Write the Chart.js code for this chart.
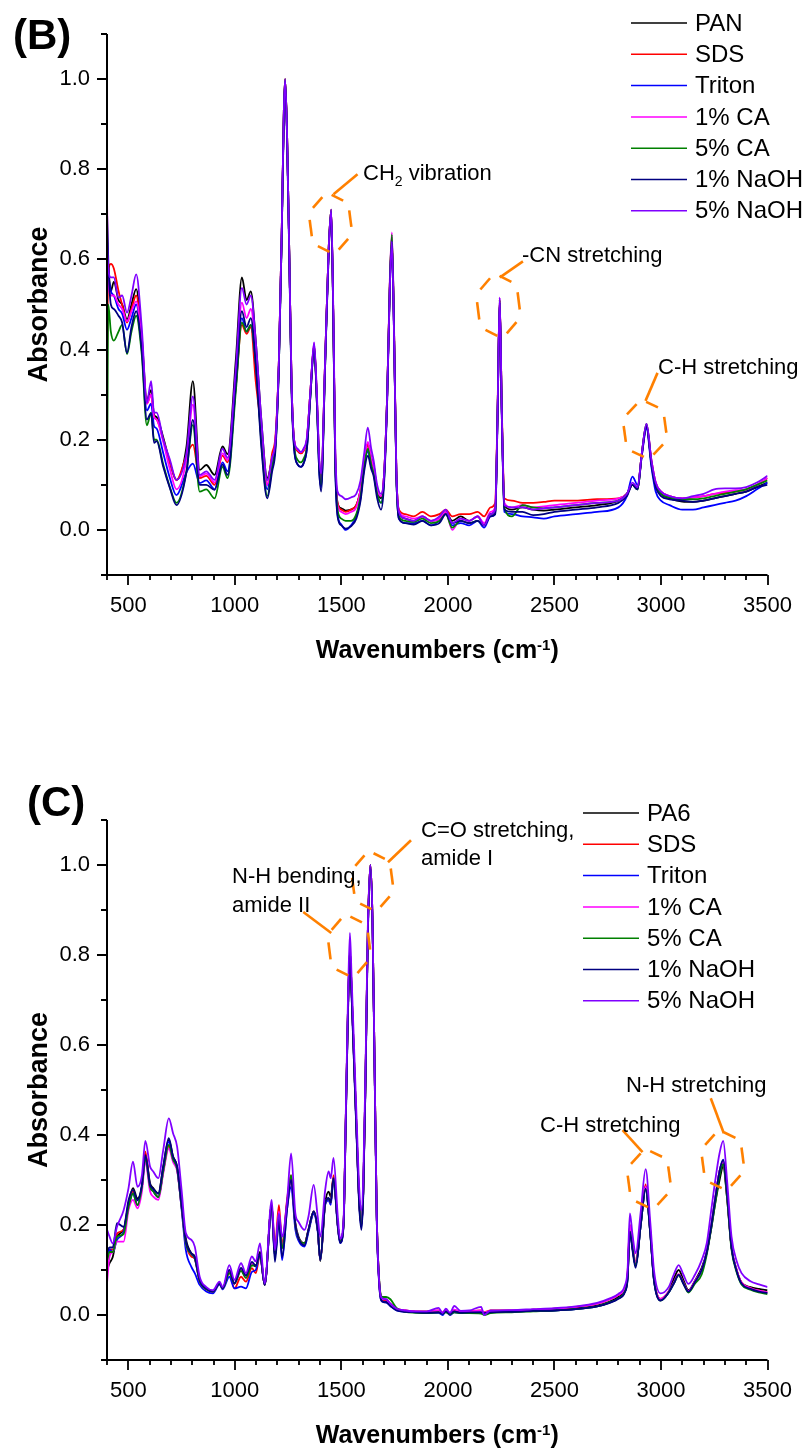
<!DOCTYPE html>
<html>
<head>
<meta charset="utf-8">
<script src="https://cdn.jsdelivr.net/npm/chart.js@4.4.0/dist/chart.umd.min.js"></script>
<style>
body { margin: 0; background: #fff; }
#wrap { position: relative; width: 810px; height: 1450px; }
.panel { position: absolute; left: 0; width: 810px; }
</style>
</head>
<body>
<div id="wrap">
    <div class="panel" style="top:0;height:720px"><canvas id="chartB" width="810" height="720"></canvas></div>
    <div class="panel" style="top:720px;height:730px"><canvas id="chartC" width="810" height="730"></canvas></div>
</div>
<script>
const FONT = "'Liberation Sans', Arial, Helvetica, sans-serif";
const SERIES_COLORS = ['#000000', '#ff0000', '#0000ff', '#ff00ff', '#008000', '#000080', '#8000ff'];
const NOTE_COLOR = '#ff8000';

const xMajorTicks = [500, 1000, 1500, 2000, 2500, 3000, 3500];
const yMajorTicks = [0.0, 0.2, 0.4, 0.6, 0.8, 1.0];

// ---- panel B (PAN) ----
const labelsB = ['PAN', 'SDS', 'Triton', '1% CA', '5% CA', '1% NaOH', '5% NaOH'];
const wnB = [400,406,418,432,454,471,494,515,537,563, 587,607,621,633,664,695,726,773,803,835,
    866,905,942,966,1005,1033,1055,1075,1098,1125, 1152,1175,1191,1207,1220,1230,1236,1245,1256,1266,
    1278,1295,1310,1322,1338,1355,1372,1386,1396,1405, 1424,1440,1452,1462,1471,1482,1500,1520,1545,1570,
    1590,1607,1624,1640,1651,1668,1686,1700,1715,1727, 1737,1748,1758,1770,1800,1840,1880,1920,1960,1990,
    2020,2060,2100,2140,2170,2200,2222,2233,2243,2253, 2265,2300,2350,2400,2450,2500,2600,2700,2800,2840,
    2866,2890,2910,2932,2955,2975,3000,3040,3100,3150, 3200,3250,3300,3350,3400,3450,3500];
const panB = [.60,.58,.53,.55,.51,.50,.467,.50,.534,.43, .29,.31,.255,.25,.205,.15,.111,.185,.33,.133,
    .144,.122,.185,.168,.38,.56,.51,.529,.42,.24, .115,.16,.20,.38,.66,.93,1.0,.88,.60,.33,
    .20,.175,.17,.178,.20,.31,.41,.28,.15,.115, .38,.62,.71,.48,.17,.06,.048,.043,.045,.055,
    .09,.15,.19,.16,.145,.09,.07,.12,.30,.54, .65,.42,.13,.04,.025,.02,.03,.02,.025,.04,
    .02,.03,.02,.03,.01,.035,.04,.26,.51,.26, .055,.045,.05,.045,.043,.045,.05,.055,.065,.08,
    .10,.09,.17,.23,.15,.10,.08,.07,.063,.062, .065,.07,.075,.08,.085,.095,.105];
const sdsB = [.38,.57,.59,.58,.53,.50,.46,.49,.52,.42, .28,.30,.25,.245,.20,.15,.11,.165,.189,.115,
    .12,.10,.165,.15,.32,.455,.435,.45,.33,.22, .10,.17,.21,.38,.66,.93,1.0,.88,.60,.33,
    .20,.175,.17,.175,.20,.31,.41,.28,.15,.11, .38,.62,.71,.48,.17,.06,.045,.04,.045,.055,
    .09,.15,.19,.155,.14,.09,.075,.12,.30,.54, .645,.42,.13,.045,.035,.03,.04,.03,.035,.045,
    .03,.035,.035,.04,.03,.05,.06,.27,.51,.27, .07,.065,.06,.06,.062,.065,.065,.068,.07,.08,
    .10,.095,.17,.23,.155,.105,.085,.075,.07,.072, .075,.08,.082,.085,.09,.10,.115];
const tritonB = [.61,.57,.53,.52,.49,.48,.444,.47,.50,.41, .265,.28,.23,.225,.17,.115,.077,.128,.147,.104,
    .11,.09,.15,.13,.32,.47,.44,.455,.37,.20, .09,.15,.19,.37,.65,.92,.995,.87,.59,.32,
    .185,.145,.14,.147,.18,.30,.405,.27,.13,.095, .37,.61,.705,.47,.15,.035,.012,.0,.01,.03,
    .07,.14,.175,.14,.13,.08,.06,.11,.29,.53, .64,.41,.12,.025,.015,.015,.02,.01,.02,.035,
    .01,.015,.01,.02,.005,.03,.035,.25,.505,.25, .04,.035,.03,.028,.025,.03,.035,.04,.05,.075,
    .118,.10,.165,.225,.14,.085,.065,.055,.045,.045, .05,.055,.06,.065,.075,.09,.105];
const ca1B = [.74,.56,.52,.52,.50,.49,.463,.485,.507,.42, .28,.30,.25,.245,.195,.135,.09,.157,.278,.119,
    .125,.105,.17,.155,.34,.504,.47,.49,.40,.22, .10,.16,.20,.38,.66,.93,1.0,.88,.60,.33,
    .20,.178,.172,.178,.20,.31,.415,.28,.15,.11, .38,.62,.71,.48,.17,.055,.04,.035,.04,.05,
    .09,.155,.195,.16,.14,.09,.075,.12,.30,.55, .66,.43,.13,.04,.03,.025,.03,.02,.025,.04,
    .0,.025,.02,.03,.015,.04,.05,.26,.515,.26, .06,.05,.055,.05,.052,.055,.06,.065,.07,.08,
    .10,.095,.17,.235,.155,.105,.085,.075,.07,.072, .075,.08,.085,.088,.09,.10,.115];
const ca5B = [.03,.50,.44,.42,.44,.455,.39,.44,.475,.39, .232,.26,.20,.20,.145,.095,.06,.13,.233,.085,
    .09,.07,.14,.115,.31,.46,.44,.455,.37,.19, .075,.14,.19,.37,.65,.93,1.0,.88,.60,.32,
    .19,.155,.15,.157,.185,.30,.41,.27,.14,.10, .37,.62,.71,.47,.16,.045,.025,.02,.02,.035,
    .075,.14,.18,.145,.125,.08,.06,.11,.30,.54, .655,.42,.12,.03,.02,.018,.025,.015,.02,.035,
    .005,.02,.015,.02,.01,.035,.04,.26,.51,.26, .05,.03,.055,.05,.048,.05,.055,.06,.065,.08,
    .10,.09,.17,.235,.15,.10,.08,.072,.068,.068, .07,.075,.08,.085,.09,.10,.11];
const naoh1B = [.71,.60,.50,.49,.475,.46,.393,.45,.485,.40, .245,.259,.193,.197,.14,.093,.055,.128,.244,.10,
    .10,.089,.145,.122,.33,.485,.45,.47,.37,.18, .07,.13,.18,.37,.65,.92,.995,.87,.59,.31,
    .18,.145,.14,.147,.18,.30,.405,.27,.13,.085, .37,.61,.705,.47,.15,.03,.01,.003,.008,.025,
    .065,.13,.165,.135,.12,.07,.045,.10,.29,.53, .64,.41,.12,.025,.015,.012,.02,.01,.015,.035,
    .015,.02,.015,.02,.01,.03,.035,.25,.505,.25, .045,.04,.04,.033,.035,.04,.045,.05,.06,.075,
    .10,.09,.165,.23,.145,.095,.075,.068,.065,.062, .065,.07,.075,.08,.085,.095,.10];
const naoh5B = [.64,.58,.56,.56,.515,.52,.482,.52,.567,.45, .282,.33,.26,.26,.20,.156,.111,.171,.296,.122,
    .13,.111,.18,.16,.36,.537,.50,.52,.42,.24, .11,.16,.20,.38,.66,.93,1.0,.88,.60,.33,
    .20,.18,.173,.18,.205,.31,.416,.29,.16,.125, .38,.62,.711,.49,.19,.085,.075,.068,.072,.08,
    .11,.17,.227,.18,.155,.10,.08,.12,.30,.53, .64,.41,.13,.04,.025,.02,.03,.02,.03,.045,
    .015,.025,.02,.03,.01,.035,.045,.26,.515,.26, .055,.05,.05,.045,.048,.05,.055,.06,.065,.08,
    .105,.095,.17,.235,.155,.105,.085,.075,.07,.075, .08,.09,.092,.092,.095,.105,.12];

// ---- panel C (PA6) ----
const labelsC = ['PA6', 'SDS', 'Triton', '1% CA', '5% CA', '1% NaOH', '5% NaOH'];
const wnC = [400,412,427,447,478,501,522,543,564,580, 602,617,641,664,690,710,729,750,770,796,
    812,835,866,897,928,943,974,998,1029,1052, 1080,1098,1118,1140,1173,1188,1207,1222,1245,1264,
    1284,1299,1327,1346,1370,1389,1401,1424,1440,1450, 1463,1483,1494,1510,1520,1530,1540,1548,1560,1572,
    1584,1594,1603,1613,1624,1636,1646,1656,1666,1678, 1692,1710,1730,1760,1800,1850,1900,1956,1975,1990,
    2010,2030,2060,2100,2156,2170,2200,2300,2400,2500, 2600,2700,2760,2800,2830,2843,2854,2866,2881,2905,
    2928,2950,2967,2998,3036,3060,3083,3105,3129,3160, 3191,3215,3235,3255,3275,3292,3310,3331,3355,3378,
    3420,3460,3500];
const pa6C = [.10,.115,.129,.174,.19,.248,.282,.259,.285,.356, .293,.282,.27,.33,.389,.352,.33,.248,.17,.137,
    .13,.078,.059,.052,.07,.059,.096,.07,.104,.085, .115,.108,.14,.067,.244,.135,.226,.152,.248,.304,
    .204,.174,.159,.19,.226,.189,.12,.248,.274,.263, .305,.20,.163,.20,.42,.66,.811,.72,.56,.40,
    .25,.20,.28,.52,.85,1.0,.88,.55,.22,.07, .035,.03,.022,.012,.008,.007,.006,.008,.004,.008,
    .003,.01,.006,.007,.008,.005,.008,.008,.01,.011, .015,.021,.03,.04,.055,.085,.19,.15,.11,.2,
    .282,.18,.08,.035,.052,.08,.10,.078,.055,.077, .105,.14,.19,.25,.30,.33,.26,.15,.10,.072,
    .062,.058,.055];
const sdsC = [.12,.145,.145,.181,.19,.24,.275,.244,.285,.363, .285,.275,.262,.32,.375,.345,.325,.24,.159,.13,
    .125,.075,.057,.052,.07,.059,.095,.059,.085,.074, .104,.093,.133,.067,.244,.15,.244,.155,.256,.31,
    .20,.17,.16,.19,.23,.189,.122,.248,.259,.25, .311,.20,.163,.20,.42,.66,.811,.72,.56,.40,
    .25,.20,.28,.52,.85,1.0,.88,.55,.22,.07, .035,.033,.025,.014,.01,.008,.008,.01,.006,.01,
    .0,.01,.008,.009,.01,.006,.01,.01,.012,.014, .018,.025,.035,.045,.06,.09,.20,.16,.115,.21,
    .29,.185,.082,.036,.052,.072,.09,.072,.053,.075, .10,.14,.195,.26,.32,.34,.265,.15,.10,.072,
    .06,.054,.05];
const tritonC = [.13,.145,.14,.167,.185,.24,.27,.244,.285,.345, .285,.275,.262,.32,.385,.345,.325,.235,.144,.107,
    .093,.067,.052,.048,.068,.057,.085,.059,.063,.059, .096,.10,.133,.067,.235,.13,.204,.122,.235,.285,
    .19,.165,.152,.185,.225,.185,.122,.245,.255,.245, .30,.195,.16,.195,.41,.65,.805,.71,.55,.39,
    .245,.195,.275,.51,.84,.995,.87,.54,.21,.065, .03,.028,.02,.01,.007,.006,.005,.005,.0,.008,
    .0,.006,.005,.006,.007,.004,.007,.008,.009,.01, .013,.019,.028,.037,.052,.08,.19,.15,.11,.2,
    .285,.18,.078,.033,.05,.07,.089,.07,.052,.074, .10,.14,.195,.26,.32,.345,.27,.15,.098,.07,
    .058,.052,.049];
const ca1C = [.07,.13,.14,.163,.163,.233,.256,.237,.275,.341, .275,.263,.256,.315,.37,.34,.32,.24,.159,.135,
    .125,.075,.057,.052,.07,.059,.10,.07,.10,.085, .115,.11,.133,.067,.244,.13,.23,.148,.245,.30,
    .20,.17,.16,.19,.23,.189,.122,.248,.259,.25, .304,.20,.163,.20,.42,.66,.811,.72,.56,.40,
    .25,.20,.28,.52,.85,1.0,.88,.55,.22,.07, .035,.035,.025,.014,.01,.008,.007,.01,.006,.01,
    .004,.012,.008,.008,.01,.006,.009,.01,.012,.014, .018,.025,.035,.045,.06,.09,.20,.16,.115,.205,
    .285,.185,.082,.036,.052,.072,.09,.072,.053,.076, .10,.14,.195,.26,.32,.34,.265,.15,.10,.072,
    .06,.054,.05];
const ca5C = [.12,.14,.14,.174,.18,.24,.27,.244,.285,.348, .285,.275,.262,.32,.378,.345,.325,.24,.159,.135,
    .125,.075,.057,.052,.07,.059,.093,.07,.098,.082, .11,.11,.133,.067,.244,.13,.22,.148,.245,.311,
    .20,.17,.16,.19,.23,.189,.122,.248,.259,.25, .304,.20,.163,.20,.42,.66,.811,.72,.56,.40,
    .25,.20,.28,.52,.85,1.0,.88,.55,.22,.075, .04,.04,.035,.015,.007,.005,.004,.006,.003,.006,
    .002,.006,.004,.004,.003,.0,.004,.006,.008,.01, .013,.019,.028,.037,.052,.08,.185,.15,.11,.2,
    .28,.18,.078,.032,.05,.07,.088,.07,.05,.07, .09,.135,.19,.25,.31,.335,.26,.145,.095,.068,
    .056,.05,.046];
const naoh1C = [.14,.15,.15,.204,.196,.255,.278,.255,.29,.355, .29,.28,.27,.33,.393,.352,.33,.245,.165,.137,
    .128,.077,.058,.052,.07,.059,.10,.07,.104,.088, .118,.11,.135,.067,.244,.118,.211,.129,.235,.30,
    .20,.17,.155,.19,.23,.189,.122,.248,.26,.25, .304,.20,.16,.20,.41,.65,.805,.71,.55,.39,
    .24,.189,.27,.51,.84,.995,.87,.54,.21,.065, .03,.028,.02,.01,.007,.006,.005,.006,.003,.008,
    .003,.008,.005,.006,.006,.004,.006,.007,.009,.01, .013,.019,.027,.036,.05,.078,.185,.145,.105,.2,
    .28,.178,.077,.032,.05,.07,.089,.07,.052,.074, .10,.14,.195,.26,.32,.344,.27,.15,.098,.07,
    .058,.052,.049];
const naoh5C = [.19,.174,.159,.196,.233,.282,.341,.285,.311,.387, .33,.319,.304,.367,.437,.404,.374,.278,.182,.167,
    .152,.085,.062,.055,.074,.062,.111,.078,.115,.093, .13,.119,.159,.07,.256,.144,.225,.174,.252,.359,
    .226,.207,.189,.22,.289,.218,.174,.278,.319,.304, .349,.22,.17,.21,.43,.68,.849,.75,.59,.43,
    .28,.233,.31,.54,.86,1.0,.88,.55,.22,.07, .037,.035,.025,.014,.01,.008,.008,.016,.004,.014,
    .005,.02,.009,.01,.018,.0,.01,.011,.013,.015, .019,.027,.037,.047,.065,.1,.226,.18,.137,.23,
    .324,.205,.10,.048,.062,.09,.111,.09,.069,.09, .122,.16,.23,.3,.36,.387,.3,.174,.12,.093,
    .075,.068,.062];

// band annotations: ring centre in data units, ring radii and leader offsets in px
const notesB = [
    { wn: 1449, abs: 0.68, rx: 21, ry: 28.5, lead: [3, -29, 27, -49] },
    { wn: 2237, abs: 0.497, rx: 21.5, ry: 30, lead: [1.5, -28.5, 24.5, -44.5] },
    { wn: 2925, abs: 0.223, rx: 21.5, ry: 27.5, lead: [0.5, -28.5, 12.5, -56.5] }
];
const notesC = [
    { wn: 1537, abs: 0.82, rx: 21, ry: 29.5, lead: [-18, -13, -46, -34] },
    { wn: 1646, abs: 0.964, rx: 20.5, ry: 28, lead: [15.5, -19, 38.5, -41] },
    { wn: 2944, abs: 0.302, rx: 21.5, ry: 28, lead: [-6.5, -27, -26.5, -49] },
    { wn: 3290, abs: 0.344, rx: 21, ry: 28, lead: [1, -27, -12, -62] }
];
const textsB = [
    { x: 363, y: 180, runs: [{ t: 'CH' }, { t: '2', size: 14, dy: 6 }, { t: ' vibration' }] },
    { x: 522, y: 262, runs: [{ t: '-CN stretching' }] },
    { x: 658, y: 374, runs: [{ t: 'C-H stretching' }] }
];
const textsC = [
    { x: 232, y: 163, runs: [{ t: 'N-H bending,' }] },
    { x: 232, y: 192, runs: [{ t: 'amide II' }] },
    { x: 421, y: 117, runs: [{ t: 'C=O stretching,' }] },
    { x: 421, y: 145, runs: [{ t: 'amide I' }] },
    { x: 540, y: 412, runs: [{ t: 'C-H stretching' }] },
    { x: 626, y: 372, runs: [{ t: 'N-H stretching' }] }
];

function fontOf(r) {
    return (r.bold ? 'bold ' : '') + (r.size || 22) + 'px ' + FONT;
}

function drawRuns(ctx, runs, x, y, align) {
    const widths = runs.map(r => { ctx.font = fontOf(r); return ctx.measureText(r.t).width; });
    const total = widths.reduce((a, b) => a + b, 0);
    let cx = align === 'center' ? x - total / 2 : x;
    ctx.textAlign = 'left';
    ctx.textBaseline = 'alphabetic';
    runs.forEach((r, i) => {
        ctx.font = fontOf(r);
        ctx.fillText(r.t, cx, y + (r.dy || 0));
        cx += widths[i];
    });
}

function dashedRing(ctx, cx, cy, rx, ry) {
    const half = 17 * Math.PI / 180;
    for (let k = 0; k < 6; k++) {
        const c = (-70 + 60 * k) * Math.PI / 180;
        ctx.beginPath();
        ctx.moveTo(cx + rx * Math.cos(c - half), cy + ry * Math.sin(c - half));
        ctx.lineTo(cx + rx * Math.cos(c + half), cy + ry * Math.sin(c + half));
        ctx.stroke();
    }
}

const decorPlugin = {
    id: 'decor',
    afterDraw(chart, args, opts) {
        const ctx = chart.ctx;
        const { left, right, top, bottom } = chart.chartArea;
        const xs = chart.scales.x;
        const ys = chart.scales.y;
        ctx.save();

        // axes and tick marks
        ctx.strokeStyle = '#000';
        ctx.lineWidth = 2;
        ctx.beginPath();
        ctx.moveTo(left, top);
        ctx.lineTo(left, bottom + 1);
        ctx.moveTo(left - 1, bottom);
        ctx.lineTo(right, bottom);
        ctx.stroke();
        ctx.lineWidth = 1.8;
        ctx.beginPath();
        xs.ticks.forEach(t => {
            const px = Math.round(xs.getPixelForValue(t.value));
            const len = xMajorTicks.includes(t.value) ? 10 : 5;
            ctx.moveTo(px, bottom);
            ctx.lineTo(px, bottom + len);
        });
        ys.ticks.forEach(t => {
            const py = Math.round(ys.getPixelForValue(t.value));
            const len = yMajorTicks.some(v => Math.abs(v - t.value) < 1e-6) ? 10 : 6;
            ctx.moveTo(left, py);
            ctx.lineTo(left - len, py);
        });
        ctx.stroke();

        // axis titles and panel letter
        ctx.fillStyle = '#000';
        drawRuns(ctx, [
            { t: 'Wavenumbers (cm', size: 25, bold: true },
            { t: '-1', size: 15, bold: true, dy: -8 },
            { t: ')', size: 25, bold: true }
        ], (left + right) / 2, opts.xTitleY, 'center');
        ctx.save();
        ctx.translate(47, (top + bottom) / 2);
        ctx.rotate(-Math.PI / 2);
        ctx.font = 'bold 27px ' + FONT;
        ctx.textAlign = 'center';
        ctx.textBaseline = 'alphabetic';
        ctx.fillText('Absorbance', 0, 0);
        ctx.restore();
        drawRuns(ctx, [{ t: opts.letter.text, size: 42, bold: true }], opts.letter.x, opts.letter.y);

        // legend
        const lg = opts.legend;
        chart.data.datasets.forEach((ds, i) => {
            const y = lg.y + i * lg.dy;
            ctx.strokeStyle = ds.borderColor;
            ctx.lineWidth = 1.5;
            ctx.beginPath();
            ctx.moveTo(lg.x0, y);
            ctx.lineTo(lg.x1, y);
            ctx.stroke();
            ctx.fillStyle = '#000';
            ctx.font = '24px ' + FONT;
            ctx.textAlign = 'left';
            ctx.textBaseline = 'middle';
            ctx.fillText(ds.label, lg.tx, y + 1);
        });

        // band annotations
        ctx.strokeStyle = NOTE_COLOR;
        ctx.lineWidth = 2.6;
        ctx.lineCap = 'butt';
        opts.notes.forEach(n => {
            const cx = xs.getPixelForValue(n.wn);
            const cy = ys.getPixelForValue(n.abs);
            dashedRing(ctx, cx, cy, n.rx, n.ry);
            ctx.beginPath();
            ctx.moveTo(cx + n.lead[0], cy + n.lead[1]);
            ctx.lineTo(cx + n.lead[2], cy + n.lead[3]);
            ctx.stroke();
        });
        ctx.fillStyle = '#000';
        opts.texts.forEach(tx => drawRuns(ctx, tx.runs, tx.x, tx.y));

        ctx.restore();
    }
};

function makeDatasets(wn, series, labels) {
    return series.map((ys, i) => ({
        label: labels[i],
        data: wn.map((x, j) => ({ x: x, y: ys[j] })),
        borderColor: SERIES_COLORS[i],
        backgroundColor: SERIES_COLORS[i],
        borderWidth: 1.8,
        pointRadius: 0,
        fill: false,
        cubicInterpolationMode: 'monotone',
        order: series.length - i
    }));
}

function makeChart(id, datasets, frame, decor) {
    const tickFont = { family: FONT, size: 22 };
    return new Chart(document.getElementById(id), {
        type: 'line',
        data: { datasets: datasets },
        plugins: [decorPlugin],
        options: {
            responsive: false,
            animation: false,
            devicePixelRatio: 1,
            layout: { padding: { top: frame.top, right: 810 - frame.right, left: 0, bottom: 0 } },
            plugins: {
                legend: { display: false },
                tooltip: { enabled: false },
                decor: decor
            },
            scales: {
                x: {
                    type: 'linear',
                    min: 400,
                    max: 3500,
                    afterFit: s => { s.height = frame.height - frame.bottom; },
                    grid: { display: false, drawTicks: false },
                    border: { display: false },
                    ticks: {
                        stepSize: 100,
                        autoSkip: false,
                        maxRotation: 0,
                        padding: 18,
                        color: '#000',
                        font: tickFont,
                        callback: v => xMajorTicks.includes(v) ? String(v) : ''
                    }
                },
                y: {
                    type: 'linear',
                    min: -0.1,
                    max: 1.1,
                    afterFit: s => { s.width = frame.left; },
                    grid: { display: false, drawTicks: false },
                    border: { display: false },
                    ticks: {
                        stepSize: 0.1,
                        autoSkip: false,
                        padding: 17,
                        color: '#000',
                        font: tickFont,
                        callback: v => {
                            if (!yMajorTicks.some(t => Math.abs(t - v) < 1e-6)) return '';
                            return (Math.abs(v) < 1e-9 ? 0 : v).toFixed(1);
                        }
                    }
                }
            }
        }
    });
}

makeChart('chartB',
    makeDatasets(wnB, [panB, sdsB, tritonB, ca1B, ca5B, naoh1B, naoh5B], labelsB),
    { left: 107, right: 772, top: 34, bottom: 575, height: 720 },
    {
        xTitleY: 658,
        letter: { text: '(B)', x: 13, y: 49 },
        legend: { x0: 631, x1: 687, tx: 695, y: 23, dy: 31.3 },
        notes: notesB,
        texts: textsB
    });

makeChart('chartC',
    makeDatasets(wnC, [pa6C, sdsC, tritonC, ca1C, ca5C, naoh1C, naoh5C], labelsC),
    { left: 107, right: 772, top: 100, bottom: 640, height: 730 },
    {
        xTitleY: 723,
        letter: { text: '(C)', x: 27, y: 96 },
        legend: { x0: 583, x1: 639, tx: 647, y: 93, dy: 31.3 },
        notes: notesC,
        texts: textsC
    });
</script>
</body>
</html>
